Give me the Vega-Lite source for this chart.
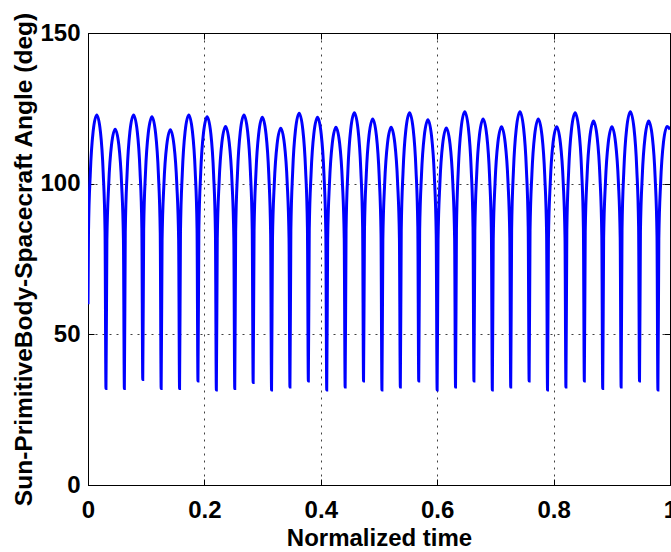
{
  "$schema": "https://vega.github.io/schema/vega-lite/v6.json",
  "width": 582,
  "height": 452,
  "autosize": {"type": "none"},
  "padding": {"left": 88, "top": 33, "right": 1, "bottom": 67},
  "background": "white",
  "config": {
    "view": {"stroke": "#000", "strokeWidth": 1},
    "font": "Liberation Sans",
    "axis": {
      "labelFont": "Liberation Sans",
      "labelFontWeight": "bold",
      "labelFontSize": 24,
      "labelColor": "#000",
      "titleFont": "Liberation Sans",
      "titleFontWeight": "bold",
      "titleFontSize": 24,
      "titleColor": "#000",
      "domainColor": "#000",
      "tickColor": "#000",
      "tickWidth": 1,
      "gridColor": "#000",
      "gridDash": [2, 5],
      "gridOpacity": 0.75,
      "gridWidth": 1
    }
  },
  "data": {
    "values": [
      {"t": 0, "v": 60}, {"t": 0.00084, "v": 84.0}, {"t": 0.0040, "v": 103.6}, {"t": 0.00874, "v": 117.2}, {"t": 0.01507, "v": 122.8}, {"t": 0.02139, "v": 117.2}, {"t": 0.02613, "v": 103.6}, {"t": 0.02929, "v": 84.0},
      {"t": 0.03087, "v": 32},
      {"t": 0.03245, "v": 81.3}, {"t": 0.03561, "v": 99.9}, {"t": 0.04035, "v": 112.8}, {"t": 0.04668, "v": 118.1}, {"t": 0.05300, "v": 112.8}, {"t": 0.05774, "v": 99.9}, {"t": 0.06090, "v": 81.3},
      {"t": 0.06248, "v": 32},
      {"t": 0.06406, "v": 84.0}, {"t": 0.06722, "v": 103.6}, {"t": 0.07196, "v": 117.2}, {"t": 0.07829, "v": 122.8}, {"t": 0.08461, "v": 117.4}, {"t": 0.08935, "v": 104.3}, {"t": 0.09251, "v": 85.3},
      {"t": 0.09409, "v": 35},
      {"t": 0.09567, "v": 85.0}, {"t": 0.09883, "v": 103.8}, {"t": 0.10357, "v": 116.8}, {"t": 0.10990, "v": 122.2}, {"t": 0.11622, "v": 116.6}, {"t": 0.12096, "v": 103.2}, {"t": 0.12412, "v": 83.7},
      {"t": 0.12571, "v": 32},
      {"t": 0.12729, "v": 81.2}, {"t": 0.13045, "v": 99.8}, {"t": 0.13519, "v": 112.6}, {"t": 0.14152, "v": 117.9}, {"t": 0.14784, "v": 112.6}, {"t": 0.15258, "v": 99.8}, {"t": 0.15574, "v": 81.2},
      {"t": 0.15732, "v": 32},
      {"t": 0.15890, "v": 84.0}, {"t": 0.16206, "v": 103.6}, {"t": 0.16680, "v": 117.2}, {"t": 0.17313, "v": 122.8}, {"t": 0.17945, "v": 117.3}, {"t": 0.18419, "v": 104.2}, {"t": 0.18735, "v": 85.1},
      {"t": 0.18893, "v": 34.5},
      {"t": 0.19051, "v": 84.8}, {"t": 0.19367, "v": 103.7}, {"t": 0.19841, "v": 116.8}, {"t": 0.20474, "v": 122.2}, {"t": 0.21106, "v": 116.6}, {"t": 0.21580, "v": 103.1}, {"t": 0.21896, "v": 83.5},
      {"t": 0.22054, "v": 31.5},
      {"t": 0.22212, "v": 81.6}, {"t": 0.22528, "v": 100.5}, {"t": 0.23002, "v": 113.6}, {"t": 0.23635, "v": 119}, {"t": 0.24267, "v": 113.6}, {"t": 0.24741, "v": 100.6}, {"t": 0.25057, "v": 81.9},
      {"t": 0.25215, "v": 32},
      {"t": 0.25373, "v": 84.0}, {"t": 0.25689, "v": 103.6}, {"t": 0.26163, "v": 117.2}, {"t": 0.26796, "v": 122.8}, {"t": 0.27428, "v": 117.3}, {"t": 0.27902, "v": 104.1}, {"t": 0.28218, "v": 84.9},
      {"t": 0.28377, "v": 34},
      {"t": 0.28535, "v": 84.4}, {"t": 0.28851, "v": 103.4}, {"t": 0.29325, "v": 116.5}, {"t": 0.29958, "v": 122}, {"t": 0.30590, "v": 116.4}, {"t": 0.31064, "v": 102.9}, {"t": 0.31380, "v": 83.4},
      {"t": 0.31538, "v": 31.5},
      {"t": 0.31696, "v": 81.3}, {"t": 0.32012, "v": 100.1}, {"t": 0.32486, "v": 113.0}, {"t": 0.33119, "v": 118.4}, {"t": 0.33751, "v": 113.1}, {"t": 0.34225, "v": 100.3}, {"t": 0.34541, "v": 81.7},
      {"t": 0.34699, "v": 32.5},
      {"t": 0.34857, "v": 84.6}, {"t": 0.35173, "v": 104.2}, {"t": 0.35647, "v": 117.8}, {"t": 0.36280, "v": 123.4}, {"t": 0.36912, "v": 117.9}, {"t": 0.37386, "v": 104.6}, {"t": 0.37702, "v": 85.4},
      {"t": 0.37860, "v": 34.5},
      {"t": 0.38018, "v": 84.6}, {"t": 0.38334, "v": 103.5}, {"t": 0.38808, "v": 116.6}, {"t": 0.39441, "v": 122}, {"t": 0.40073, "v": 116.4}, {"t": 0.40547, "v": 102.9}, {"t": 0.40863, "v": 83.4},
      {"t": 0.41021, "v": 31.5},
      {"t": 0.41179, "v": 81.5}, {"t": 0.41495, "v": 100.3}, {"t": 0.41969, "v": 113.3}, {"t": 0.42602, "v": 118.7}, {"t": 0.43234, "v": 113.4}, {"t": 0.43708, "v": 100.5}, {"t": 0.44024, "v": 81.9},
      {"t": 0.44183, "v": 32.5},
      {"t": 0.44341, "v": 84.6}, {"t": 0.44657, "v": 104.3}, {"t": 0.45131, "v": 117.9}, {"t": 0.45764, "v": 123.5}, {"t": 0.46396, "v": 118.0}, {"t": 0.46870, "v": 104.7}, {"t": 0.47186, "v": 85.5},
      {"t": 0.47344, "v": 34.5},
      {"t": 0.47502, "v": 84.4}, {"t": 0.47818, "v": 103.1}, {"t": 0.48292, "v": 116.1}, {"t": 0.48925, "v": 121.5}, {"t": 0.49557, "v": 115.9}, {"t": 0.50031, "v": 102.5}, {"t": 0.50347, "v": 83.1},
      {"t": 0.50505, "v": 31.5},
      {"t": 0.50663, "v": 81.5}, {"t": 0.50979, "v": 100.3}, {"t": 0.51453, "v": 113.3}, {"t": 0.52086, "v": 118.7}, {"t": 0.52718, "v": 113.4}, {"t": 0.53192, "v": 100.5}, {"t": 0.53508, "v": 81.9},
      {"t": 0.53666, "v": 32.5},
      {"t": 0.53824, "v": 84.6}, {"t": 0.54140, "v": 104.3}, {"t": 0.54614, "v": 117.9}, {"t": 0.55247, "v": 123.5}, {"t": 0.55879, "v": 118.0}, {"t": 0.56353, "v": 104.7}, {"t": 0.56669, "v": 85.5},
      {"t": 0.56827, "v": 34.5},
      {"t": 0.56985, "v": 84.2}, {"t": 0.57301, "v": 102.9}, {"t": 0.57775, "v": 115.8}, {"t": 0.58408, "v": 121.2}, {"t": 0.59040, "v": 115.6}, {"t": 0.59514, "v": 102.3}, {"t": 0.59830, "v": 82.9},
      {"t": 0.59989, "v": 31.5},
      {"t": 0.60147, "v": 81.4}, {"t": 0.60463, "v": 100.1}, {"t": 0.60937, "v": 113.1}, {"t": 0.61570, "v": 118.5}, {"t": 0.62202, "v": 113.2}, {"t": 0.62676, "v": 100.4}, {"t": 0.62992, "v": 81.8},
      {"t": 0.63150, "v": 32.5},
      {"t": 0.63308, "v": 84.9}, {"t": 0.63624, "v": 104.6}, {"t": 0.64098, "v": 118.2}, {"t": 0.64731, "v": 123.9}, {"t": 0.65363, "v": 118.4}, {"t": 0.65837, "v": 105.0}, {"t": 0.66153, "v": 85.7},
      {"t": 0.66311, "v": 34.5},
      {"t": 0.66469, "v": 84.4}, {"t": 0.66785, "v": 103.1}, {"t": 0.67259, "v": 116.1}, {"t": 0.67892, "v": 121.5}, {"t": 0.68524, "v": 115.9}, {"t": 0.68998, "v": 102.5}, {"t": 0.69314, "v": 83.1},
      {"t": 0.69472, "v": 31.5},
      {"t": 0.69630, "v": 81.6}, {"t": 0.69946, "v": 100.5}, {"t": 0.70420, "v": 113.5}, {"t": 0.71053, "v": 118.9}, {"t": 0.71685, "v": 113.5}, {"t": 0.72159, "v": 100.7}, {"t": 0.72475, "v": 82.0},
      {"t": 0.72633, "v": 32.5},
      {"t": 0.72791, "v": 84.9}, {"t": 0.73107, "v": 104.6}, {"t": 0.73581, "v": 118.2}, {"t": 0.74214, "v": 123.9}, {"t": 0.74846, "v": 118.4}, {"t": 0.75320, "v": 105.0}, {"t": 0.75636, "v": 85.7},
      {"t": 0.75795, "v": 34.5},
      {"t": 0.75953, "v": 84.4}, {"t": 0.76269, "v": 103.1}, {"t": 0.76743, "v": 116.1}, {"t": 0.77376, "v": 121.5}, {"t": 0.78008, "v": 115.9}, {"t": 0.78482, "v": 102.5}, {"t": 0.78798, "v": 83.1},
      {"t": 0.78956, "v": 31.5},
      {"t": 0.79114, "v": 81.6}, {"t": 0.79430, "v": 100.5}, {"t": 0.79904, "v": 113.5}, {"t": 0.80537, "v": 118.9}, {"t": 0.81169, "v": 113.5}, {"t": 0.81643, "v": 100.7}, {"t": 0.81959, "v": 82.0},
      {"t": 0.82117, "v": 32.5},
      {"t": 0.82275, "v": 84.6}, {"t": 0.82591, "v": 104.3}, {"t": 0.83065, "v": 117.9}, {"t": 0.83698, "v": 123.5}, {"t": 0.84330, "v": 118.0}, {"t": 0.84804, "v": 104.7}, {"t": 0.85120, "v": 85.5},
      {"t": 0.85278, "v": 34.5},
      {"t": 0.85436, "v": 83.9}, {"t": 0.85752, "v": 102.6}, {"t": 0.86226, "v": 115.4}, {"t": 0.86859, "v": 120.8}, {"t": 0.87491, "v": 115.3}, {"t": 0.87965, "v": 102.1}, {"t": 0.88281, "v": 82.9},
      {"t": 0.88439, "v": 32},
      {"t": 0.88597, "v": 81.8}, {"t": 0.88913, "v": 100.6}, {"t": 0.89387, "v": 113.5}, {"t": 0.90020, "v": 118.9}, {"t": 0.90652, "v": 113.5}, {"t": 0.91126, "v": 100.7}, {"t": 0.91442, "v": 82.0},
      {"t": 0.91601, "v": 32.5},
      {"t": 0.91759, "v": 84.9}, {"t": 0.92075, "v": 104.6}, {"t": 0.92549, "v": 118.2}, {"t": 0.93182, "v": 123.9}, {"t": 0.93814, "v": 118.4}, {"t": 0.94288, "v": 105.0}, {"t": 0.94604, "v": 85.7},
      {"t": 0.94762, "v": 34.5},
      {"t": 0.94920, "v": 83.9}, {"t": 0.95236, "v": 102.6}, {"t": 0.95710, "v": 115.4}, {"t": 0.96343, "v": 120.8}, {"t": 0.96975, "v": 115.3}, {"t": 0.97449, "v": 102.0}, {"t": 0.97765, "v": 82.7},
      {"t": 0.97923, "v": 31.5},
      {"t": 0.98081, "v": 81.6}, {"t": 0.98397, "v": 100.5}, {"t": 0.98871, "v": 113.6}, {"t": 0.99504, "v": 119}, {"t": 1.0, "v": 118}
    ]
  },
  "layer": [
    {
      "mark": {"type": "line", "color": "#0000ff", "strokeWidth": 3, "interpolate": "monotone", "clip": true},
      "encoding": {
        "x": {
          "field": "t", "type": "quantitative",
          "scale": {"domain": [0, 1], "nice": false, "zero": false},
          "axis": {"orient": "bottom", "title": "Normalized time", "values": [0, 0.2, 0.4, 0.6, 0.8, 1], "format": "~g", "tickSize": -6, "labelPadding": 19, "grid": true, "titlePadding": 4, "labelFlush": false, "labelOverlap": false}
        },
        "y": {
          "field": "v", "type": "quantitative",
          "scale": {"domain": [0, 150], "nice": false},
          "axis": {"orient": "left", "title": "Sun-PrimitiveBody-Spacecraft Angle (deg)", "values": [0, 50, 100, 150], "tickSize": -6, "labelPadding": 14, "grid": true, "titlePadding": 3, "titleFontSize": 24.5, "labelFlush": false, "labelOverlap": false}
        }
      }
    },
    {
      "mark": {"type": "line", "strokeOpacity": 0},
      "encoding": {
        "x": {
          "field": "t", "type": "quantitative",
          "axis": {"orient": "top", "labels": false, "title": null, "grid": false, "domain": false, "tickSize": -6, "values": [0, 0.2, 0.4, 0.6, 0.8, 1]}
        },
        "y": {
          "field": "v", "type": "quantitative",
          "axis": {"orient": "right", "labels": false, "title": null, "grid": false, "domain": false, "tickSize": -6, "values": [0, 50, 100, 150]}
        }
      }
    }
  ]
}
